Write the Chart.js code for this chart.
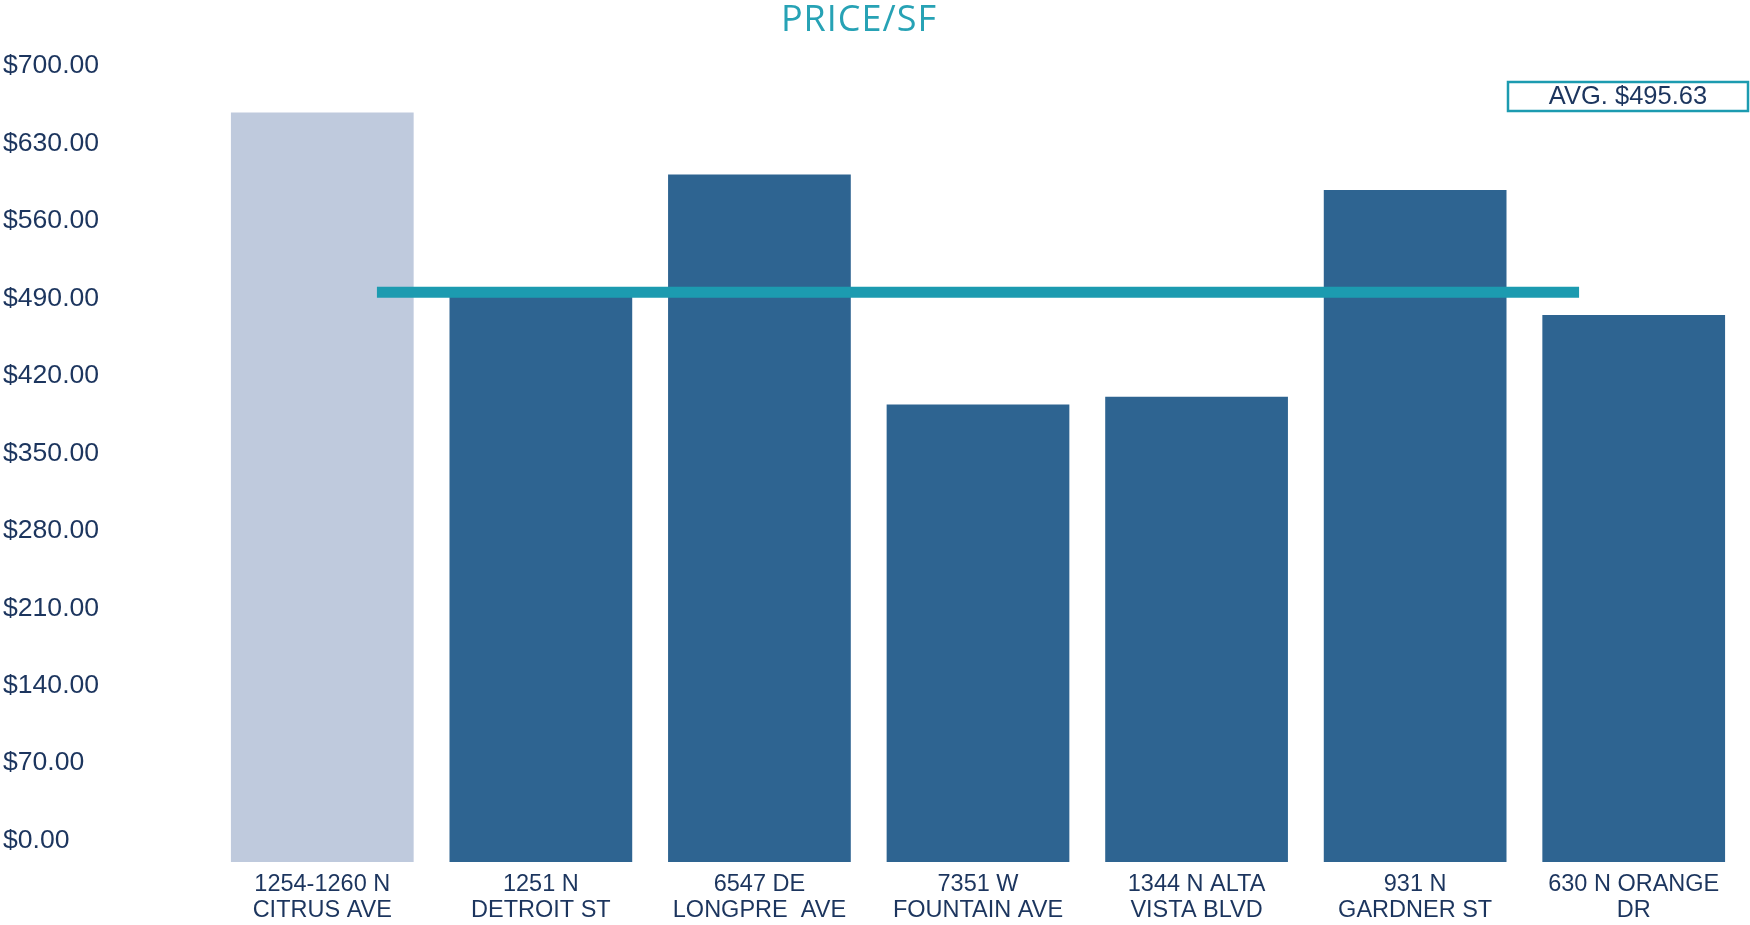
<!DOCTYPE html>
<html>
<head>
<meta charset="utf-8">
<title>Price/SF</title>
<script src="https://cdn.jsdelivr.net/npm/chart.js@4.4.1/dist/chart.umd.min.js"></script>
<style>
  html, body { margin: 0; padding: 0; background: #fff; }
  #wrap { width: 1750px; height: 925px; }
</style>
</head>
<body>
<div id="wrap"><canvas id="priceChart" width="1750" height="925"></canvas></div>
<script>
// ==========================
//  price-sf.js — Comps Chart
// ==========================

// ── DATA ─────────────────────────────────────────────────
const properties = [
  ['1254-1260 N', 'CITRUS AVE'],
  ['1251 N', 'DETROIT ST'],
  ['6547 DE', 'LONGPRE  AVE'],
  ['7351 W', 'FOUNTAIN AVE'],
  ['1344 N ALTA', 'VISTA BLVD'],
  ['931 N', 'GARDNER ST'],
  ['630 N ORANGE', 'DR']
];
const pricePerSf = [658, 494, 602, 394, 401, 588, 475];
const avgPrice   = 495.63;
const avgSpan    = [0.25, 5.75];   // where the average line starts/ends, in category units
const yTicks     = [0, 70, 140, 210, 280, 350, 420, 490, 560, 630, 700];

// ── COLORS ───────────────────────────────────────────────
const NAVY    = '#1c355e';
const TEAL    = '#1c9bb0';
const BAR     = '#2e6491';
const SUBJECT = '#bfcadd';

const Y_MIN = -19.4;   // bars hang a little below the $0.00 label
const FONT  = "'Liberation Sans', Arial, sans-serif";

// ── TITLE + AVG BOX ──────────────────────────────────────
const decorations = {
  id: 'decorations',
  afterDraw(chart) {
    const ctx = chart.ctx;
    ctx.save();

    // title
    ctx.font = "400 36px 'Open Sans'";
    ctx.letterSpacing = '1px';
    ctx.fillStyle = '#27a2b5';
    ctx.textAlign = 'center';
    ctx.textBaseline = 'middle';
    ctx.fillText('PRICE/SF', 859, 21);
    ctx.letterSpacing = '0px';

    // avg label box
    ctx.lineWidth = 2.5;
    ctx.strokeStyle = TEAL;
    ctx.fillStyle = '#fff';
    ctx.fillRect(1508, 82, 240, 29);
    ctx.strokeRect(1508, 82, 240, 29);
    ctx.font = '25.5px ' + FONT;
    ctx.fillStyle = NAVY;
    ctx.fillText('AVG. $' + avgPrice.toFixed(2), 1628, 97);

    ctx.restore();
  }
};

// ── CHART ────────────────────────────────────────────────
const ctx = document.getElementById('priceChart').getContext('2d');

new Chart(ctx, {
  type: 'bar',
  data: {
    labels: properties,
    datasets: [
      {
        type: 'line',
        label: 'Average',
        data: avgSpan.map(x => ({ x: x, y: avgPrice })),
        xAxisID: 'xLine',
        borderColor: TEAL,
        borderWidth: 11,
        borderCapStyle: 'butt',
        pointRadius: 0,
        fill: false,
        order: 0
      },
      {
        label: 'Price/SF',
        data: pricePerSf,
        backgroundColor: pricePerSf.map((v, i) => i === 0 ? SUBJECT : BAR),
        borderWidth: 0,
        base: Y_MIN,
        grouped: false,
        categoryPercentage: 1,
        barPercentage: 0.836,
        order: 1
      }
    ]
  },
  options: {
    responsive: false,
    animation: false,
    layout: { padding: { top: 66, left: 3, right: 7, bottom: 0 } },
    plugins: {
      legend: { display: false },
      title: { display: false },
      tooltip: { enabled: false }
    },
    scales: {
      x: {
        type: 'category',
        offset: true,
        border: { display: false },
        grid: { display: false, drawTicks: false },
        afterFit: s => { s.height = 63; },
        ticks: {
          color: NAVY,
          font: { family: FONT, size: 23.5, lineHeight: 1.11 },
          padding: 9,
          maxRotation: 0,
          autoSkip: false
        }
      },
      xLine: {
        type: 'linear',
        display: false,
        offset: false,
        min: -0.5,
        max: properties.length - 0.5
      },
      y: {
        min: Y_MIN,
        max: 700,
        border: { display: false },
        grid: { display: false, drawTicks: false },
        afterBuildTicks: s => { s.ticks = yTicks.map(v => ({ value: v })); },
        afterFit: s => { s.width = 210; },
        ticks: {
          color: NAVY,
          crossAlign: 'far',
          padding: 0,
          font: { family: FONT, size: 26.6 },
          callback: v => '$' + Number(v).toFixed(2)
        }
      }
    }
  },
  plugins: [decorations]
});
</script>
</body>
</html>
